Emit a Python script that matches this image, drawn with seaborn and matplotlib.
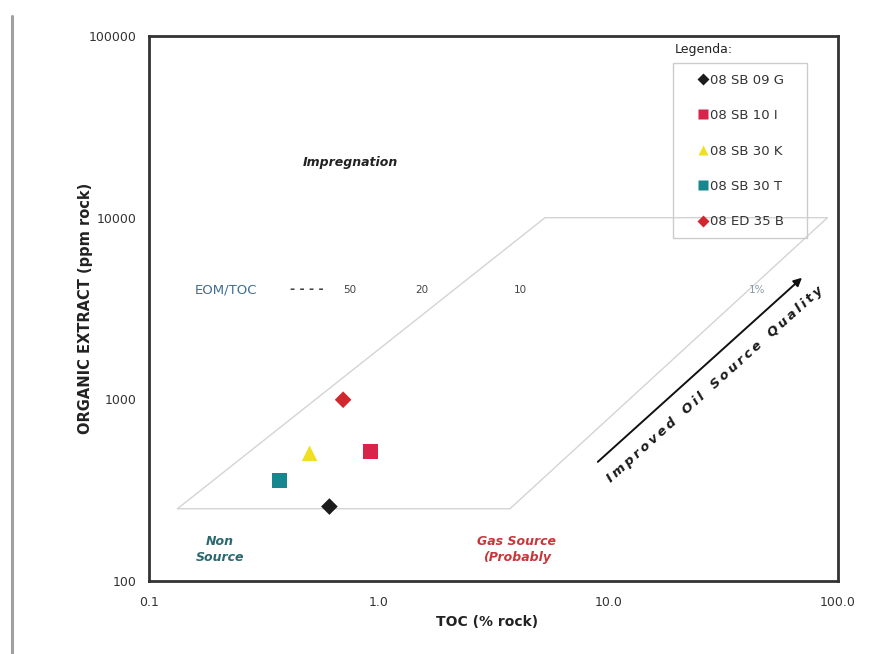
import matplotlib
matplotlib.use("Agg")
import matplotlib.pyplot as plt
import seaborn as sns
import pandas as pd
from matplotlib.lines import Line2D
from matplotlib.patches import Rectangle

# Samples: TOC (% rock) vs. organic extract (ppm rock)
samples = ["08 SB 09 G", "08 SB 10 I", "08 SB 30 K", "08 SB 30 T", "08 ED 35 B"]
toc = [0.61, 0.92, 0.50, 0.37, 0.70]
eom = [257, 516, 505, 356, 995]
colors = ["#1c1c1c", "#d8234a", "#f0e020", "#16868f", "#d0282e"]
markers = ["D", "s", "^", "s", "D"]
areas = [72, 115, 125, 115, 72]

# Source-rock field outline (parallelogram)
field_x = [0.133, 3.73, 90.0, 5.3, 0.133]
field_y = [250, 250, 10000, 10000, 250]

# Quality arrow
arrow_tail = (9.0, 453)
arrow_head = (69.7, 4670)

xticks = [0.1, 1, 10, 100]
xticklabels = ["0.1", "1.0", "10.0", "100.0"]
yticks = [100, 1000, 10000, 100000]
yticklabels = ["100", "1000", "10000", "100000"]

# EOM/TOC ratio labels
ratio_labels = ["50", "20", "10", "1%"]
ratio_x = [0.75, 1.54, 4.12, 44.4]
ratio_y = 4000

sns.set_style("white")
plt.rcParams["font.family"] = ["DejaVu Sans"]

df = pd.DataFrame({"sample": samples, "toc": toc, "eom": eom})

fig = plt.figure(figsize=(8.93, 6.54), dpi=100)
ax = fig.add_axes([0.1669, 0.1116, 0.7715, 0.8333])

ax.plot(field_x, field_y, color="#d4d4d4", lw=1.0, zorder=1)

sns.scatterplot(
    data=df, x="toc", y="eom",
    hue="sample", palette=dict(zip(samples, colors)),
    style="sample", markers=dict(zip(samples, markers)),
    size="sample", sizes=dict(zip(samples, areas)),
    edgecolor="none", legend=False, ax=ax, zorder=3,
)

ax.set_xscale("log")
ax.set_yscale("log")
ax.set_xlim(0.1, 100)
ax.set_ylim(100, 100000)
ax.set_xticks(xticks)
ax.set_xticklabels(xticklabels)
ax.set_yticks(yticks)
ax.set_yticklabels(yticklabels)
ax.minorticks_off()
ax.tick_params(axis="both", which="major", direction="out", length=3,
               width=0.8, color="#555555", labelsize=9, labelcolor="#333333")
ax.tick_params(axis="x", pad=8)
ax.tick_params(axis="y", pad=6)

for sp in ax.spines.values():
    sp.set_color("#333333")
    sp.set_linewidth(2.0)

ax.set_xlabel("TOC (% rock)", fontsize=10, fontweight="bold", color="#222222")
ax.xaxis.set_label_coords(0.49, -0.063)
ax.set_ylabel("ORGANIC EXTRACT (ppm rock)", fontsize=10.5, fontweight="bold",
              color="#222222")
ax.yaxis.set_label_coords(-0.0813, 0.5)

# Region annotations
ax.text(0.75, 20100, "Impregnation", fontsize=9, fontweight="bold", fontstyle="italic",
        color="#222222", ha="center", va="center")
ax.text(0.204, 150, "Non\nSource", fontsize=9, fontweight="bold", fontstyle="italic",
        color="#2a6870", ha="center", va="center", linespacing=1.3)
ax.text(4.0, 150, "Gas Source\n(Probably", fontsize=9, fontweight="bold", fontstyle="italic",
        color="#c8363a", ha="center", va="center", linespacing=1.3)

ax.text(0.216, ratio_y, "EOM/TOC", fontsize=9.5, color="#3f6f96", ha="center", va="center")
ax.text(0.488, ratio_y, "- - - -", fontsize=9, fontweight="bold", color="#444444",
        ha="center", va="center")
for lab, xv in zip(ratio_labels, ratio_x):
    ax.text(xv, ratio_y, lab, fontsize=7.5,
            color="#8a9aa8" if lab.endswith("%") else "#444444",
            ha="center", va="center")

# Improved oil source quality arrow
ax.annotate("", xy=arrow_head, xytext=arrow_tail,
            arrowprops=dict(arrowstyle="-|>", color="#111111", lw=1.4,
                            mutation_scale=12, shrinkA=0, shrinkB=0))
qual = "\u2009".join("Improved Oil Source Quality").replace("\u2009 \u2009", "\u2009\u2009 \u2009")
ax.text(29.1, 1202, qual, fontsize=9.5, fontweight="bold", fontstyle="italic",
        color="#1a1a1a", rotation=42, rotation_mode="anchor", ha="center", va="center")

# Legend
handles = [Line2D([], [], linestyle="none", marker=m, color=c, markersize=ms,
                  markeredgecolor="none")
           for m, c, ms in zip(markers, colors, [5.8, 7, 7.5, 7, 5.8])]
leg = ax.legend(handles, samples, loc="upper left", bbox_to_anchor=(0.797, 0.931),
                borderaxespad=0, frameon=False, fontsize=9.5,
                labelspacing=1.7, handlelength=0.8, handletextpad=0.1,
                borderpad=0, labelcolor="#333333")
ax.add_patch(Rectangle((0.7605, 0.629), 0.1945, 0.3215, transform=ax.transAxes,
                       fill=False, edgecolor="#cccccc", lw=1.0, zorder=4))
ax.text(0.763, 0.975, "Legenda:", transform=ax.transAxes, fontsize=9,
        color="#222222", ha="left", va="center")

# Page edge line on the left
fig.add_artist(Line2D([0.0135, 0.0135], [0.0, 0.975], transform=fig.transFigure,
                      color="#a0a0a0", lw=2.2))

fig.savefig("out.png", dpi=100, facecolor="white")
